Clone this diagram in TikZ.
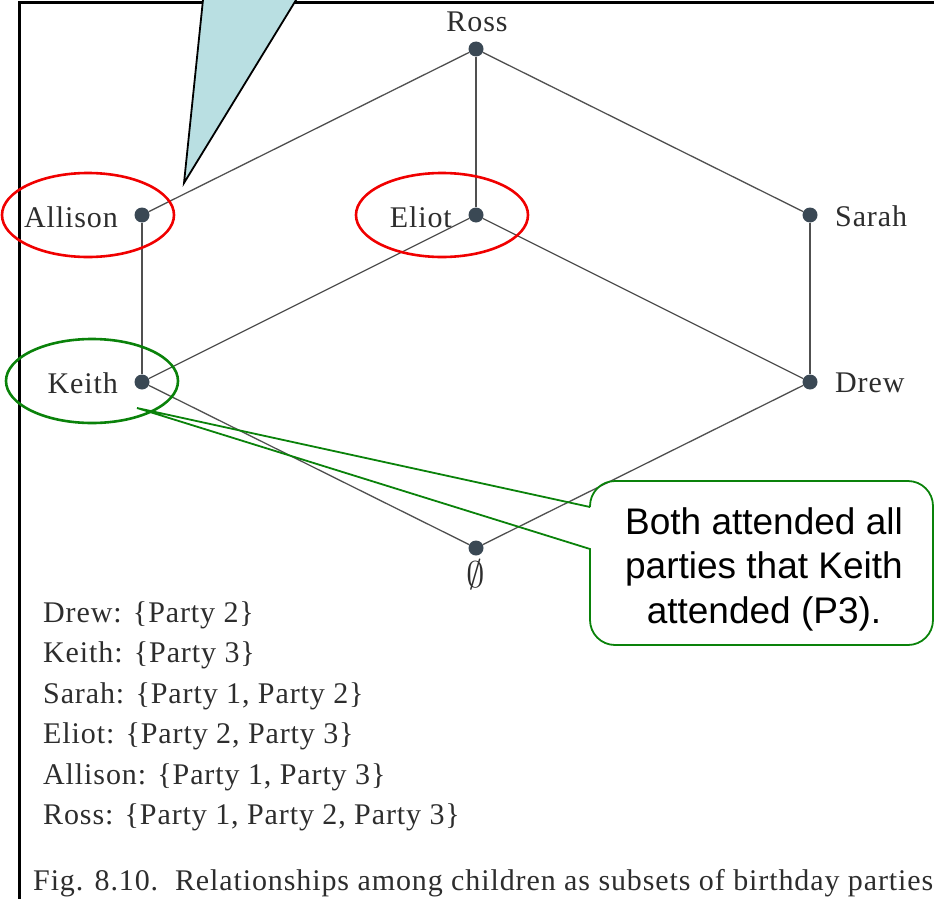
\documentclass[tikz,border=0pt]{standalone}
\usepackage{fix-cm}
\usepackage{fontspec}
\setmainfont{Liberation Serif}[LetterSpace=3.0]
\newfontfamily\calloutfont{Liberation Sans}
\usetikzlibrary{shapes.geometric}

\definecolor{inkgray}{RGB}{45,45,45}
\definecolor{edgegray}{RGB}{80,80,80}
\definecolor{dotslate}{RGB}{58,72,84}
\definecolor{wedgeblue}{RGB}{185,223,226}
\definecolor{ringred}{RGB}{240,0,0}
\definecolor{ringgreen}{RGB}{10,130,10}

\tikzset{
  edge/.style={draw=edgegray, line width=1.3pt},
  dot/.style={circle, fill=dotslate, minimum size=15pt, inner sep=0pt},
  lbl/.style={inner sep=0pt, text=inkgray, font=\fontsize{30}{36}\selectfont},
  legend/.style={inner sep=0pt, text=inkgray, anchor=base west, font=\fontsize{30}{36}\selectfont},
  ring/.style={ellipse, draw=#1, line width=2.6pt, minimum width=172pt, minimum height=84pt, inner sep=0pt},
  callout/.style={draw=ringgreen, line width=1.8pt},
  frameline/.style={draw=black, line width=3pt}
}

\begin{document}
\begin{tikzpicture}[x=1pt, y=-1pt]
\useasboundingbox (0,0) rectangle (934,899);
\clip (0,0) rectangle (934,899);

% page frame
\draw[frameline] (19,899) -- (19,3) -- (934,3);

% speech wedge coming in from above
\filldraw[fill=wedgeblue, draw=black, line width=1.8pt, line join=miter]
  (203.6,-6) -- (184,183) -- (299.7,-6);

% lattice of subsets
\node[dot] (ross)    at (476,49)  {};
\node[dot] (allison) at (142,215) {};
\node[dot] (eliot)   at (476,215) {};
\node[dot] (sarah)   at (810,215) {};
\node[dot] (keith)   at (142,382) {};
\node[dot] (drew)    at (810,382) {};
\node[dot] (empty)   at (476,548) {};

\draw[edge] (ross) -- (allison);
\draw[edge] (ross) -- (eliot);
\draw[edge] (ross) -- (sarah);
\draw[edge] (allison) -- (keith);
\draw[edge] (eliot) -- (keith);
\draw[edge] (eliot) -- (drew);
\draw[edge] (sarah) -- (drew);
\draw[edge] (keith) -- (empty);
\draw[edge] (drew) -- (empty);

\node[lbl, anchor=base]      (rossl)    at (477,32)  {Ross};
\node[lbl, anchor=base east] (allisonl) at (118,227) {Allison};
\node[lbl, anchor=base east] (eliotl)   at (452,227) {Eliot};
\node[lbl, anchor=base west] (sarahl)   at (835,226) {Sarah};
\node[lbl, anchor=base east] (keithl)   at (118,393) {Keith};
\node[lbl, anchor=base west] (drewl)    at (835,392) {Drew};
\node[lbl, anchor=center, font=\fontsize{37}{40}\selectfont]
                             (emptyl)   at (476,575) {$\emptyset$};

% highlighted names
\node[ring=ringred]   (allisonring) at (88,215)  {};
\node[ring=ringred]   (eliotring)   at (442,215) {};
\node[ring=ringgreen] (keithring)   at (92,381)  {};

% membership list
\node[legend] (ldrew)    at (43,622) {Drew: \{Party 2\}};
\node[legend] (lkeith)   at (43,662) {Keith: \{Party 3\}};
\node[legend] (lsarah)   at (43,703) {Sarah: \{Party 1, Party 2\}};
\node[legend] (leliot)   at (43,743) {Eliot: \{Party 2, Party 3\}};
\node[legend] (lallison) at (43,784) {Allison: \{Party 1, Party 3\}};
\node[legend] (lross)    at (43,824) {Ross: \{Party 1, Party 2, Party 3\}};

\node[legend] (caption) at (33,890)
  {Fig. 8.10.\ \ Relationships among children as subsets of birthday parties};

% callout pointing at Keith
\coordinate (ktip) at (137,408);
\draw[callout] (590,507) [sharp corners]-- (ktip) -- (590,549)
  [rounded corners=25pt]-- (590,645) -- (933,645) -- (933,481) -- (590,481)
  [sharp corners]-- (590,507);
\node[align=center, inner sep=0pt, font=\calloutfont\fontsize{37}{44.5}\selectfont]
  (note) at (764,569) {Both attended all\\parties that Keith\\attended (P3).};

\end{tikzpicture}
\end{document}
